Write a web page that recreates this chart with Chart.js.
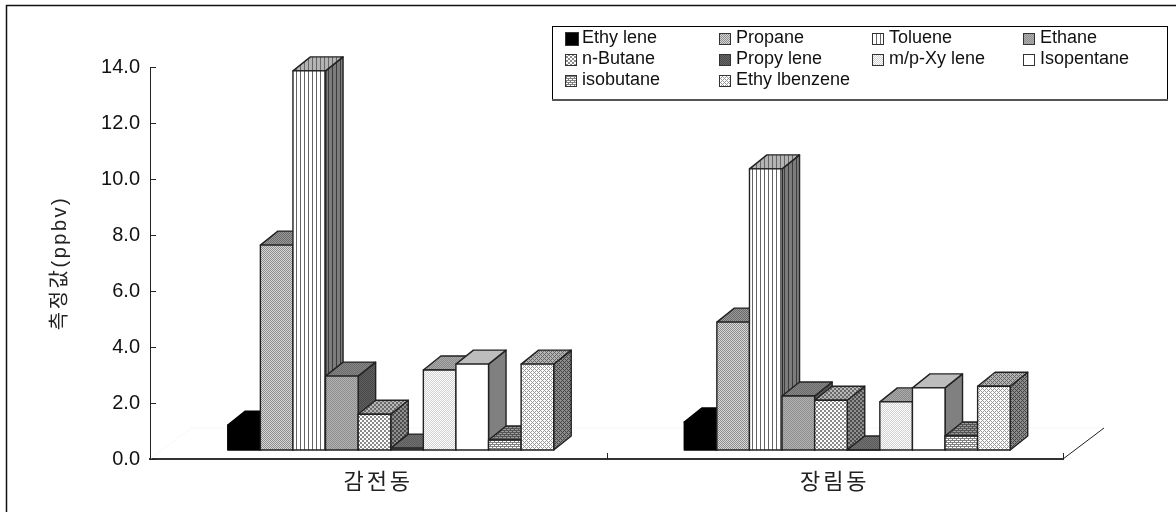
<!DOCTYPE html>
<html>
<head>
<meta charset="utf-8">
<script src="https://cdn.jsdelivr.net/npm/chart.js@4"></script>
<style>
  html, body { margin: 0; padding: 0; background: #fff; }
  #wrap { width: 1176px; height: 512px; }
</style>
</head>
<body>
<div id="wrap"><canvas id="chart" width="1176" height="512"></canvas></div>
<script>
// Values
const categories = ['감전동', '장림동'];
const compounds = ['Ethy lene', 'Propane', 'Toluene', 'Ethane', 'n-Butane', 'Propy lene', 'm/p-Xy lene', 'Isopentane', 'isobutane', 'Ethy lbenzene'];
const ethylene = [1.21, 1.32];
const propane = [7.64, 4.89];
const toluene = [13.86, 10.36];
const ethane = [2.96, 2.25];
const nButane = [1.6, 2.1];
const propylene = [0.39, 0.32];
const mpXylene = [3.18, 2.04];
const isopentane = [3.39, 2.54];
const isobutane = [0.68, 0.82];
const ethylbenzene = [3.39, 2.6];
const yTickLabels = ['14.0', '12.0', '10.0', '8.0', '6.0', '4.0', '2.0', '0.0'];
const seriesValues = [ethylene, propane, toluene, ethane, nButane, propylene, mpXylene, isopentane, isobutane, ethylbenzene];

// The bars stand a little way into the floor, so their foot is above the axis
const barFoot = 0.32;
const depthX = 17.5;
const depthY = -14;
const shiftX = 12.5;
const floorX = 41;
const floorY = -31;

// Fill cells: 1 = first colour, 0 = second colour
const solid = ['1'];
const dither = ['10', '01'];
const blocks = ['1100', '1100', '0011', '0011'];
const stripes = ['1000'];
const dashes = ['0000', '1101', '0000', '0111'];
const wave = ['1101', '1010', '0111', '1010'];

// Face colours per compound, first and second colour of the cell grid
const faces = [
  { cells: solid, front: ['#000', '#000'], top: ['#000', '#000'], side: ['#000', '#000'] },
  { cells: dither, front: ['#8c8c8c', '#d8d8d8'], top: ['#6a6a6a', '#9a9a9a'], side: ['#4a4a4a', '#777'] },
  { cells: stripes, front: ['#666', '#fff'], top: ['#666', '#b4b4b4'], side: ['#3c3c3c', '#7c7c7c'] },
  { cells: dither, front: ['#909090', '#b0b0b0'], top: ['#6c6c6c', '#868686'], side: ['#4a4a4a', '#5e5e5e'] },
  { cells: blocks, front: ['#fff', '#8a8a8a'], top: ['#b8b8b8', '#6a6a6a'], side: ['#909090', '#4c4c4c'] },
  { cells: dither, front: ['#4c4c4c', '#666'], top: ['#5c5c5c', '#707070'], side: ['#484848', '#606060'] },
  { cells: dither, front: ['#fff', '#d0d0d0'], top: ['#aaa', '#8a8a8a'], side: ['#777', '#909090'] },
  { cells: solid, front: ['#fff', '#fff'], top: ['#bdbdbd', '#bdbdbd'], side: ['#808080', '#808080'] },
  { cells: dashes, front: ['#fff', '#808080'], top: ['#9a9a9a', '#555'], side: ['#8a8a8a', '#4c4c4c'] },
  { cells: wave, front: ['#fff', '#999'], top: ['#b4b4b4', '#666'], side: ['#8c8c8c', '#444'] }
];

function makePattern(ctx, cells, colors) {
  const tile = document.createElement('canvas');
  tile.width = cells[0].length;
  tile.height = cells.length;
  const t = tile.getContext('2d');
  cells.forEach((row, y) => {
    for (let x = 0; x < row.length; x++) {
      t.fillStyle = row[x] === '1' ? colors[0] : colors[1];
      t.fillRect(x, y, 1, 1);
    }
  });
  return ctx.createPattern(tile, 'repeat');
}

function fillFace(ctx, pts, fill) {
  ctx.beginPath();
  pts.forEach((p, i) => (i ? ctx.lineTo(p[0], p[1]) : ctx.moveTo(p[0], p[1])));
  ctx.closePath();
  ctx.fillStyle = fill;
  ctx.fill();
  ctx.stroke();
}

// Draws one box from the position the bar controller worked out
function drawBox(ctx, el, face) {
  const { x, y, base, width } = el.getProps(['x', 'y', 'base', 'width'], true);
  const l = x - width / 2 + shiftX;
  const r = x + width / 2 + shiftX;
  ctx.strokeStyle = face.cells === solid && face.front[0] === '#000' ? '#000' : '#222';
  ctx.lineWidth = 1.4;
  ctx.lineJoin = 'round';
  fillFace(ctx, [[r, y], [r + depthX, y + depthY], [r + depthX, base + depthY], [r, base]], makePattern(ctx, face.cells, face.side));
  fillFace(ctx, [[l, y], [l + depthX, y + depthY], [r + depthX, y + depthY], [r, y]], makePattern(ctx, face.cells, face.top));
  fillFace(ctx, [[l, y], [r, y], [r, base], [l, base]], makePattern(ctx, face.cells, face.front));
}

// Hangul in the original is set wide, canvas letter spacing gets close to it
function widenText(scale, method, spacing) {
  const original = scale[method];
  scale[method] = function (area) {
    this.ctx.letterSpacing = spacing;
    original.call(this, area);
    this.ctx.letterSpacing = '0px';
  };
}

const boxPlugin = {
  id: 'boxes',
  beforeDatasetsDraw(chart) {
    const ctx = chart.ctx;
    const area = chart.chartArea;
    ctx.save();
    // floor edges
    ctx.lineWidth = 1;
    ctx.strokeStyle = '#f7f7f7';
    ctx.beginPath();
    ctx.moveTo(area.left, area.bottom);
    ctx.lineTo(area.left + floorX, area.bottom + floorY);
    ctx.lineTo(area.right + floorX, area.bottom + floorY);
    ctx.stroke();
    ctx.strokeStyle = '#222';
    ctx.beginPath();
    ctx.moveTo(area.right, area.bottom);
    ctx.lineTo(area.right + floorX, area.bottom + floorY);
    ctx.stroke();
    // inward ticks
    ctx.strokeStyle = '#222';
    ctx.beginPath();
    chart.scales.y.ticks.forEach((t, i) => {
      const py = Math.round(chart.scales.y.getPixelForTick(i)) + 0.5;
      ctx.moveTo(area.left, py);
      ctx.lineTo(area.left + 6, py);
    });
    const xs = chart.scales.x;
    const mid = (xs.getPixelForValue(0) + xs.getPixelForValue(1)) / 2;
    [area.left, mid, area.right].forEach(px => {
      ctx.moveTo(Math.round(px) + 0.5, area.bottom);
      ctx.lineTo(Math.round(px) + 0.5, area.bottom - 6);
    });
    ctx.stroke();
    // left to right, each box covers the side of the one before it
    chart.data.datasets.forEach((ds, i) => {
      chart.getDatasetMeta(i).data.forEach(el => drawBox(ctx, el, faces[i]));
    });
    ctx.restore();
    return false;
  },
  beforeDraw(chart) {
    const ctx = chart.ctx;
    ctx.save();
    ctx.strokeStyle = '#111';
    ctx.lineWidth = 1.5;
    ctx.beginPath();
    ctx.moveTo(6.5, 512);
    ctx.lineTo(6.5, 5.5);
    ctx.lineTo(1176, 5.5);
    ctx.stroke();
    ctx.restore();
  },
  afterDraw(chart) {
    // legend box, four columns like the original
    const ctx = chart.ctx;
    const colX = [565, 719, 872, 1023];
    const rowY = [38, 59, 80];
    ctx.save();
    ctx.strokeStyle = '#000';
    ctx.lineWidth = 1;
    ctx.strokeRect(552.5, 26.5, 615, 73);
    ctx.strokeStyle = '#555';
    ctx.lineWidth = 2;
    ctx.beginPath();
    ctx.moveTo(552, 100);
    ctx.lineTo(1168, 100);
    ctx.stroke();
    ctx.font = '18px "Liberation Sans", Arial, sans-serif';
    ctx.textBaseline = 'middle';
    ctx.lineWidth = 1;
    compounds.forEach((name, i) => {
      const cx = colX[i % 4];
      const cy = rowY[Math.floor(i / 4)];
      const size = i === 0 ? 14 : 12;
      ctx.fillStyle = makePattern(ctx, faces[i].cells, faces[i].front);
      ctx.strokeStyle = '#333';
      ctx.fillRect(cx, cy - size / 2 + 1, size, size);
      ctx.strokeRect(cx + 0.5, cy - size / 2 + 1.5, size - 1, size - 1);
      ctx.fillStyle = '#111';
      ctx.fillText(name, cx + 17, cy);
    });
    ctx.restore();
  }
};

const chart = new Chart(document.getElementById('chart'), {
  type: 'bar',
  data: {
    labels: categories,
    datasets: compounds.map((name, i) => ({ label: name, data: seriesValues[i], base: barFoot }))
  },
  options: {
    responsive: false,
    animation: false,
    events: [],
    layout: { padding: { left: 0, right: 113, top: 67, bottom: 0 } },
    datasets: { bar: { categoryPercentage: 0.714, barPercentage: 1 } },
    plugins: { legend: { display: false }, tooltip: { enabled: false } },
    scales: {
      x: {
        afterFit(scale) { scale.height = 53; },
        grid: { display: false },
        border: { color: '#333', width: 2 },
        ticks: { padding: 0, color: '#222', font: { family: '"Noto Sans CJK KR"', size: 22 } }
      },
      y: {
        min: 0,
        max: 14,
        afterFit(scale) { scale.width = 150; },
        grid: { drawOnChartArea: false, drawTicks: false, tickLength: 0 },
        border: { color: '#222', width: 1 },
        ticks: {
          stepSize: 2,
          padding: 10,
          color: '#111',
          font: { family: '"Liberation Sans"', size: 20 },
          callback(value, index) { return yTickLabels[yTickLabels.length - 1 - index]; }
        },
        title: {
          display: true,
          text: '측정값(ppbv)',
          color: '#222',
          padding: { top: 48, bottom: 0 },
          font: { family: '"Liberation Sans", "Noto Sans CJK KR"', size: 20 }
        }
      }
    }
  },
  plugins: [boxPlugin]
});
widenText(chart.scales.x, 'drawLabels', '3px');
widenText(chart.scales.y, 'drawTitle', '2.5px');
chart.draw();
</script>
</body>
</html>
